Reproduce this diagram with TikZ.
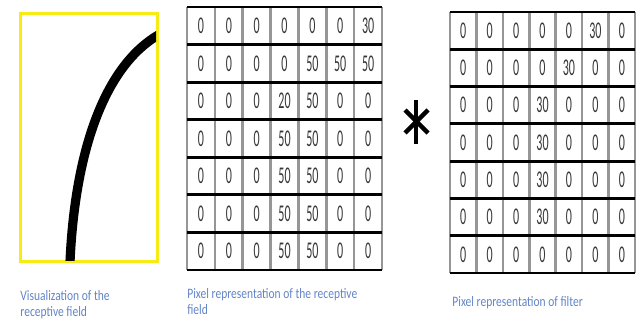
\documentclass[tikz,border=0pt]{standalone}
\usepackage{fontspec}
\setmainfont{Carlito}
\newfontfamily\labelfont{Carlito}[FakeStretch=0.8]
\newfontfamily\cellfont{Carlito}[FakeStretch=0.5]
\definecolor{capblue}{RGB}{98,132,200}
\definecolor{fieldyellow}{RGB}{246,236,20}
\definecolor{vgrid}{RGB}{150,150,150}
\definecolor{digit}{RGB}{55,55,55}
\tikzset{
  hline/.style={black, line width=1.4pt},
  vline/.style={vgrid, line width=1.3pt},
  cell/.style={font=\cellfont\fontsize{12}{12}\selectfont, text=digit, inner sep=0pt},
  caption/.style={font=\labelfont\fontsize{7.2}{8.2}\selectfont, text=capblue, anchor=north west, inner sep=0pt, align=left},
}
\begin{document}
\begin{tikzpicture}[x=0.5pt, y=-0.5pt]
\useasboundingbox (0,0) rectangle (640,320);
\clip (0,0) rectangle (640,320);
% receptive field visualization
\node[draw=fieldyellow, line width=1.6pt, minimum width=68.5pt, minimum height=124pt, inner sep=0pt, anchor=north west] (field) at (19,12) {};
\begin{scope}
\clip (19,12) rectangle (156,260);
\draw[line width=4.6pt, black] (70,262) .. controls (75,150) and (105,65) .. (160,34);
\end{scope}
% matrix 1
\foreach \r/\vals in {0/{0,0,0,0,0,0,30},1/{0,0,0,0,50,50,50},2/{0,0,0,20,50,0,0},3/{0,0,0,50,50,0,0},4/{0,0,0,50,50,0,0},5/{0,0,0,50,50,0,0},6/{0,0,0,50,50,0,0}}{
  \foreach \v [count=\c from 0] in \vals {
    \node[cell] (a-\r-\c) at ({187+27.86*(\c+0.5)}, {7+37.57*(\r+0.5)}) {\v};
  }
}
\foreach \c in {0,...,7} \draw[vline] ({187+27.86*\c},7) -- ({187+27.86*\c},270);
\foreach \r in {0,...,7} \draw[hline] (187,{7+37.57*\r}) -- (382,{7+37.57*\r});
% asterisk
\node[inner sep=0pt, minimum size=20pt] (star) at (416,122) {};
\draw[line width=2.2pt, black] (416,100) -- (416,144);
\draw[line width=2.2pt, black] (405,110) -- (428,133);
\draw[line width=2.2pt, black] (428,110) -- (405,133);
% matrix 2
\foreach \r/\vals in {0/{0,0,0,0,0,30,0},1/{0,0,0,0,30,0,0},2/{0,0,0,30,0,0,0},3/{0,0,0,30,0,0,0},4/{0,0,0,30,0,0,0},5/{0,0,0,30,0,0,0},6/{0,0,0,0,0,0,0}}{
  \foreach \v [count=\c from 0] in \vals {
    \node[cell] (b-\r-\c) at ({450+26.43*(\c+0.5)}, {12+37.29*(\r+0.5)}) {\v};
  }
}
\foreach \c in {0,...,7} \draw[vline] ({450+26.43*\c},12) -- ({450+26.43*\c},273);
\foreach \r in {0,...,7} \draw[hline] (450,{12+37.29*\r}) -- (635,{12+37.29*\r});
% captions
\node[caption] (cap1) at (20,290) {Visualization of the\\receptive field};
\node[caption] (cap2) at (187,288) {Pixel representation of the receptive\\field};
\node[caption] (cap3) at (452,296) {Pixel representation of filter};
\end{tikzpicture}
\end{document}
